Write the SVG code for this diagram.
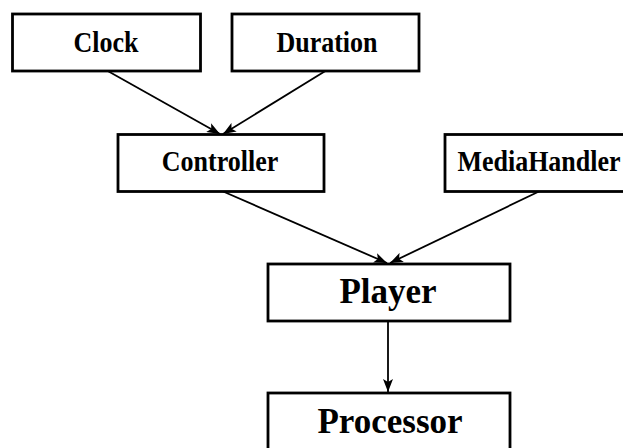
<svg xmlns="http://www.w3.org/2000/svg" width="623" height="448" viewBox="0 0 623 448">
  <style>
    .box { fill: #ffffff; stroke: #000000; stroke-width: 2.8; }
    .lbl { font-family: "Liberation Serif", "Times New Roman", serif; font-weight: bold; fill: #000000; text-anchor: middle; }
    .sm { font-size: 26px; }
    .lg { font-size: 35px; }
    .edge { stroke: #000000; stroke-width: 1.8; fill: none; marker-end: url(#arrow); }
  </style>
  <defs>
    <marker id="arrow" markerUnits="userSpaceOnUse" markerWidth="13" markerHeight="10" refX="13" refY="5" orient="auto">
      <path d="M0,0 L13,5 L0,10 L3,5 Z" fill="#000000"/>
    </marker>
  </defs>
  <rect width="623" height="448" fill="#ffffff"/>

  <g id="connectors">
    <line class="edge" x1="106" y1="70" x2="220" y2="134"/>
    <line class="edge" x1="327" y1="70" x2="223" y2="134"/>
    <line class="edge" x1="222" y1="191" x2="387" y2="263"/>
    <line class="edge" x1="540" y1="191" x2="390" y2="263"/>
    <line class="edge" x1="388" y1="321" x2="388" y2="392"/>
  </g>

  <!-- small labels are set slightly taller than wide -->
  <g id="clock">
    <rect class="box" x="12.5" y="14" width="188" height="57"/>
    <text class="lbl sm" transform="translate(106,52) scale(1,1.1)">Clock</text>
  </g>
  <g id="duration">
    <rect class="box" x="232" y="14" width="187" height="57"/>
    <text class="lbl sm" transform="translate(327,52) scale(1,1.1)">Duration</text>
  </g>
  <g id="controller">
    <rect class="box" x="118" y="134.5" width="206" height="57"/>
    <text class="lbl sm" transform="translate(220,171) scale(1,1.1)">Controller</text>
  </g>
  <g id="mediahandler">
    <rect class="box" x="445" y="134.5" width="190" height="57"/>
    <text class="lbl sm" transform="translate(539,171) scale(1,1.1)">MediaHandler</text>
  </g>
  <g id="player">
    <rect class="box" x="268" y="264" width="242" height="57"/>
    <text class="lbl lg" x="388" y="303">Player</text>
  </g>
  <g id="processor">
    <rect class="box" x="268" y="393" width="242" height="70"/>
    <text class="lbl lg" x="390" y="433">Processor</text>
  </g>
</svg>
